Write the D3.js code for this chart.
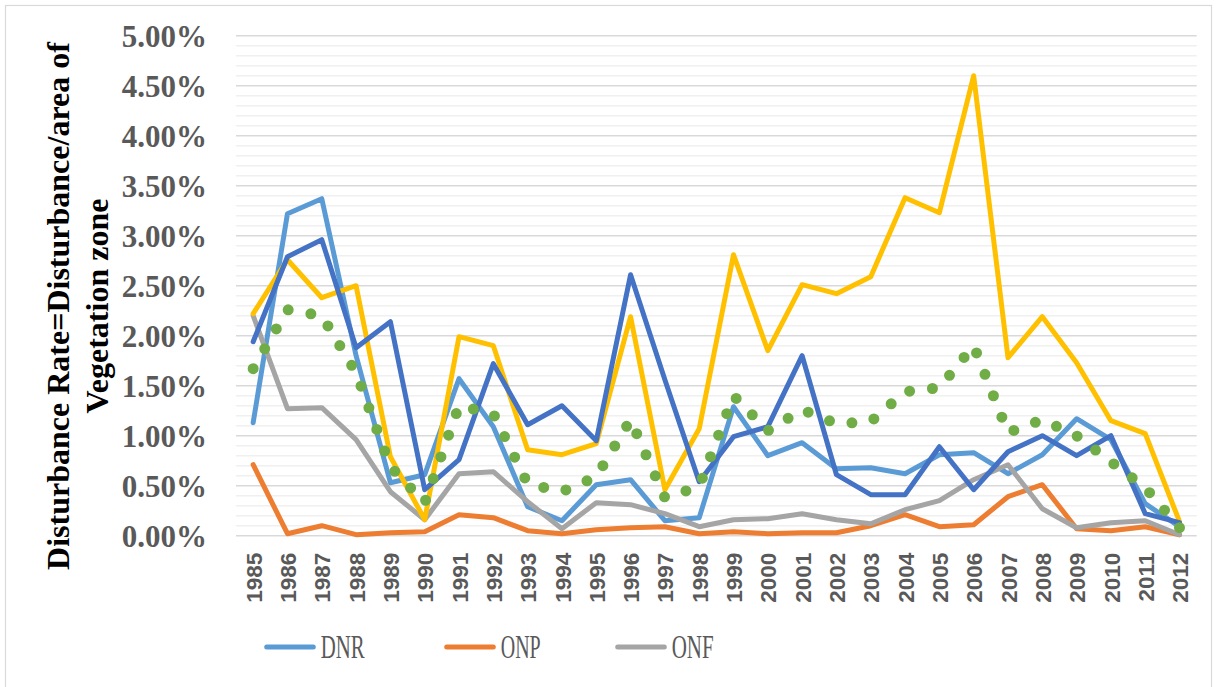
<!DOCTYPE html>
<html>
<head>
<meta charset="utf-8">
<script src="https://cdn.jsdelivr.net/npm/d3@7"></script>
<style>
  body { margin: 0; background: #fff; }
</style>
</head>
<body>
<div id="chart"></div>
<script>
// data (percent)
const years = d3.range(1985, 2013).map(String);
const dnr = [1.13, 3.22, 3.37, 1.80, 0.53, 0.61, 1.57, 1.09, 0.29, 0.15, 0.51, 0.56, 0.15, 0.18,
             1.29, 0.80, 0.93, 0.67, 0.68, 0.62, 0.81, 0.83, 0.62, 0.81, 1.17, 0.96, 0.32, 0.09];
const onp = [0.71, 0.02, 0.10, 0.01, 0.03, 0.04, 0.21, 0.18, 0.05, 0.02, 0.06, 0.08, 0.09, 0.02,
             0.04, 0.02, 0.03, 0.03, 0.10, 0.21, 0.09, 0.11, 0.39, 0.51, 0.07, 0.05, 0.09, 0.01];
const onf = [2.20, 1.27, 1.28, 0.96, 0.44, 0.16, 0.62, 0.64, 0.34, 0.07, 0.33, 0.31, 0.22, 0.09,
             0.16, 0.17, 0.22, 0.16, 0.12, 0.26, 0.35, 0.56, 0.71, 0.27, 0.08, 0.13, 0.15, 0.01];
const series4 = [2.22, 2.76, 2.38, 2.50, 0.79, 0.16, 1.99, 1.90, 0.86, 0.81, 0.92, 2.19, 0.46, 1.07,
                 2.81, 1.85, 2.51, 2.42, 2.59, 3.38, 3.23, 4.60, 1.78, 2.19, 1.73, 1.15, 1.02, 0.14];
const series5 = [1.94, 2.79, 2.96, 1.88, 2.14, 0.46, 0.76, 1.72, 1.11, 1.30, 0.95, 2.61, 1.56, 0.54,
                 0.99, 1.09, 1.80, 0.61, 0.41, 0.41, 0.89, 0.46, 0.84, 1.00, 0.80, 1.00, 0.22, 0.13];
const series6 = [1.67, 2.26, 2.20, 1.63, 0.69, 0.33, 1.30, 1.22, 0.52, 0.44, 0.59, 1.16, 0.38, 0.49,
                 1.40, 1.05, 1.26, 1.12, 1.14, 1.44, 1.48, 1.90, 1.03, 1.16, 1.00, 0.74, 0.48, 0.08];
const yTicks = d3.range(0, 5.01, 0.5);
const legendNames = ["DNR", "ONP", "ONF"];

const width = 1217, height = 687;
const plotLeft = 236, plotRight = 1196.7, plotTop = 35.7, plotBottom = 535.7;

const svg = d3.select("#chart").append("svg")
    .attr("width", width)
    .attr("height", height);

svg.append("rect")
    .attr("x", 5.5).attr("y", 5.5)
    .attr("width", 1206).attr("height", 700)
    .attr("fill", "#fff")
    .attr("stroke", "#d9d9d9")
    .attr("stroke-width", 1.2);

const x = d3.scalePoint().domain(years).range([plotLeft, plotRight]).padding(0.5);
const y = d3.scaleLinear().domain([0, 5]).range([plotBottom, plotTop]);

// minor + major gridlines
svg.append("g").selectAll("line")
    .data(d3.range(0, 51, 1).filter(d => d % 5 !== 0).map(d => d / 10))
    .enter().append("line")
    .attr("x1", plotLeft).attr("x2", plotRight)
    .attr("y1", d => y(d)).attr("y2", d => y(d))
    .attr("stroke", "#f0f0f0")
    .attr("stroke-width", 1.5);

svg.append("g").selectAll("line")
    .data(yTicks)
    .enter().append("line")
    .attr("x1", plotLeft).attr("x2", plotRight)
    .attr("y1", d => y(d)).attr("y2", d => y(d))
    .attr("stroke", "#d9d9d9")
    .attr("stroke-width", 1.5);

// y axis labels
const yAxis = svg.append("g")
    .attr("transform", `translate(207,0)`)
    .call(d3.axisLeft(y).tickValues(yTicks).tickSize(0).tickPadding(0)
        .tickFormat(d => d.toFixed(2) + "%"));
yAxis.select(".domain").remove();
yAxis.selectAll("text")
    .attr("font-family", "'Liberation Serif', 'Times New Roman', serif")
    .attr("font-weight", "bold")
    .attr("font-size", "31px")
    .attr("fill", "#595959")
    .attr("dy", "0.34em");

// x axis labels
const xAxis = svg.append("g")
    .attr("transform", `translate(0,${plotBottom})`)
    .call(d3.axisBottom(x).tickSize(0));
xAxis.select(".domain").remove();
xAxis.selectAll("text")
    .attr("font-family", "'Liberation Sans', Arial, sans-serif")
    .attr("font-weight", "bold")
    .attr("font-size", "22.5px")
    .attr("fill", "#595959")
    .attr("text-anchor", "end")
    .attr("transform", "rotate(-90)")
    .attr("x", -17)
    .attr("y", 0)
    .attr("dy", "0.36em");

// y title
const title = svg.append("text")
    .attr("transform", "translate(0,306) rotate(-90)")
    .attr("font-family", "'Liberation Serif', 'Times New Roman', serif")
    .attr("font-weight", "bold")
    .attr("font-size", "32px")
    .attr("fill", "#000")
    .attr("text-anchor", "middle");
title.append("tspan").attr("x", 0).attr("y", 69).text("Disturbance Rate=Disturbance/area of");
title.append("tspan").attr("x", 0).attr("y", 108).text("Vegetation zone");

// lines
const line = d3.line()
    .x((d, i) => x(years[i]))
    .y(d => y(d));

const series = [
    { values: dnr, color: "#5b9bd5" },
    { values: onp, color: "#ed7d31" },
    { values: onf, color: "#a5a5a5" },
    { values: series4, color: "#ffc000" },
    { values: series5, color: "#4472c4" }
];

svg.append("g").selectAll("path")
    .data(series)
    .enter().append("path")
    .attr("d", d => line(d.values))
    .attr("fill", "none")
    .attr("stroke", d => d.color)
    .attr("stroke-width", 5)
    .attr("stroke-linejoin", "round")
    .attr("stroke-linecap", "round");

svg.append("path")
    .attr("d", line(series6))
    .attr("fill", "none")
    .attr("stroke", "#70ad47")
    .attr("stroke-width", 11)
    .attr("stroke-linecap", "round")
    .attr("stroke-dasharray", "0 23");

// legend
const legendX = [266.7, 446.7, 617.7];
const legendW = [44, 40, 42];
const legend = svg.append("g").selectAll("g")
    .data(series.slice(0, 3))
    .enter().append("g")
    .attr("transform", (d, i) => `translate(${legendX[i]},647)`);
legend.append("line")
    .attr("x1", 0).attr("x2", 46.6)
    .attr("stroke", d => d.color)
    .attr("stroke-width", 5)
    .attr("stroke-linecap", "round");
legend.append("text")
    .attr("x", 54)
    .attr("y", 10.5)
    .attr("font-family", "'Liberation Serif', 'Times New Roman', serif")
    .attr("font-size", "33px")
    .attr("fill", "#595959")
    .attr("textLength", (d, i) => legendW[i])
    .attr("lengthAdjust", "spacingAndGlyphs")
    .text((d, i) => legendNames[i]);
</script>
</body>
</html>
